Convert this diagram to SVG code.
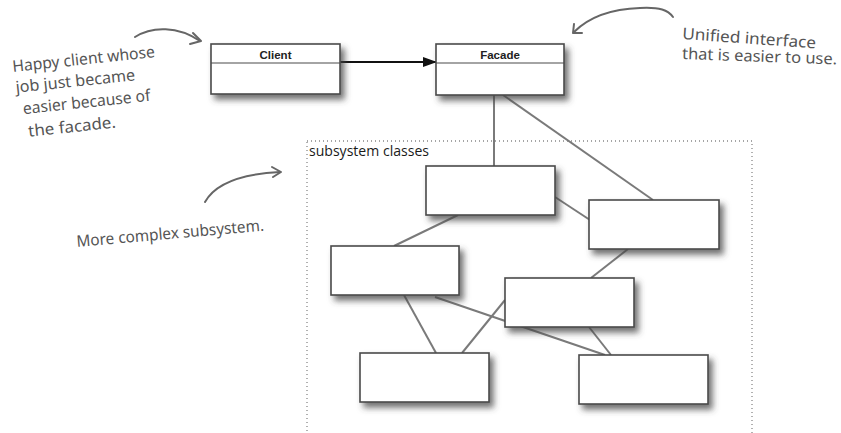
<svg xmlns="http://www.w3.org/2000/svg" width="841" height="433" viewBox="0 0 841 433">
<style>
.box{fill:#fff;stroke:#4a4a4a;stroke-width:1.6;filter:url(#sh)}
.div{stroke:#4a4a4a;stroke-width:1.2}
.cls{font-family:"Liberation Sans",Arial,sans-serif;font-weight:bold;font-size:11.5px;fill:#222;text-anchor:middle}
.link{stroke:#7a7a7a;stroke-width:2;fill:none}
.note{font-family:"Noto Sans","DejaVu Sans",sans-serif;font-size:16px;fill:#555}
.hand{stroke:#666;stroke-width:2;fill:none;stroke-linecap:round;stroke-linejoin:round}
.frame{fill:none;stroke:#888;stroke-width:1.3;stroke-dasharray:1 3}
.lbl{font-family:"Open Sans","Liberation Sans",sans-serif;font-size:14px;fill:#1a1a1a}
</style>
<defs>
<filter id="sh" x="-20%" y="-30%" width="150%" height="180%">
<feDropShadow dx="4" dy="5" stdDeviation="3" flood-color="#444" flood-opacity="0.75"/>
</filter>
<marker id="tri" markerWidth="14" markerHeight="10" refX="13" refY="5" orient="auto" markerUnits="userSpaceOnUse">
<path d="M0,0 L14,5 L0,10 Z" fill="#111"/>
</marker>
</defs>

<g id="subsystem-frame">
<rect class="frame" x="307" y="141" width="445" height="300"/>
<text class="lbl" x="309" y="156" textLength="120" lengthAdjust="spacingAndGlyphs">subsystem classes</text>
</g>

<g id="connectors">
<line x1="340" y1="62" x2="436" y2="62" stroke="#111" stroke-width="2" marker-end="url(#tri)"/>
<line class="link" x1="494" y1="95" x2="494" y2="166"/>
<line class="link" x1="503" y1="95" x2="653" y2="200"/>
<line class="link" x1="555" y1="197" x2="590" y2="220"/>
<line class="link" x1="458" y1="215" x2="394" y2="246"/>
<line class="link" x1="628" y1="249" x2="591" y2="278"/>
<line class="link" x1="404" y1="295" x2="436" y2="353"/>
<line class="link" x1="505" y1="300" x2="462" y2="353"/>
<line class="link" x1="435" y1="297" x2="605" y2="355"/>
<line class="link" x1="589" y1="327" x2="611" y2="355"/>
</g>

<g id="client">
<rect class="box" x="211" y="44" width="129" height="50"/>
<line class="div" x1="211" y1="63" x2="340" y2="63"/>
<text class="cls" x="275.5" y="59">Client</text>
</g>
<g id="facade">
<rect class="box" x="436" y="44" width="128" height="51"/>
<line class="div" x1="436" y1="63" x2="564" y2="63"/>
<text class="cls" x="500" y="59">Facade</text>
</g>

<g id="class-a"><rect class="box" x="426" y="166" width="129" height="49"/></g>
<g id="class-b"><rect class="box" x="589" y="200" width="130" height="49"/></g>
<g id="class-c"><rect class="box" x="331" y="246" width="128" height="49"/></g>
<g id="class-d"><rect class="box" x="505" y="278" width="129" height="49"/></g>
<g id="class-e"><rect class="box" x="360" y="353" width="129" height="49"/></g>
<g id="class-f"><rect class="box" x="579" y="355" width="129" height="49"/></g>

<g id="note-client">
<g transform="rotate(-6 13 72)">
<text class="note" x="13" y="72" textLength="143" lengthAdjust="spacingAndGlyphs">Happy client whose</text>
<text class="note" x="14" y="93" textLength="120" lengthAdjust="spacingAndGlyphs">job just became</text>
<text class="note" x="19" y="115" textLength="128" lengthAdjust="spacingAndGlyphs">easier because of</text>
<text class="note" x="22" y="138" textLength="88" lengthAdjust="spacingAndGlyphs">the facade.</text>
</g>
<path class="hand" d="M135,37 C152,26 178,26 200,41"/>
<path class="hand" d="M193,33 L201,41 L190,44"/>
</g>

<g id="note-facade">
<text class="note" x="682" y="39" transform="rotate(4 682 39)" textLength="134" lengthAdjust="spacingAndGlyphs">Unified interface</text>
<text class="note" x="682" y="59" transform="rotate(2 682 59)" textLength="155" lengthAdjust="spacingAndGlyphs">that is easier to use.</text>
<path class="hand" d="M673,17 C668,10 660,7 640,8 C610,9 588,18 574,32"/>
<path class="hand" d="M574,24 L573,33 L582,33"/>
</g>

<g id="note-subsystem">
<text class="note" x="77" y="247" transform="rotate(-5 77 247)" textLength="188" lengthAdjust="spacingAndGlyphs">More complex subsystem.</text>
<path class="hand" d="M205,202 C215,184 240,174 280,172"/>
<path class="hand" d="M272,167 L281,172 L273,177"/>
</g>
</svg>
